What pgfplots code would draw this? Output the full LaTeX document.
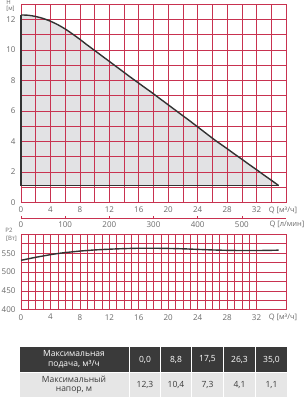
\documentclass[border=0pt]{standalone}
\usepackage{fontspec}
\setmainfont{Open Sans}
\usepackage{pgfplots}
\pgfplotsset{compat=1.18}
\definecolor{gridred}{RGB}{200,50,80}
\definecolor{fillgray}{RGB}{226,226,228}
\definecolor{curvecol}{RGB}{50,50,50}
\definecolor{labelgray}{RGB}{105,105,105}
\definecolor{darkrow}{RGB}{58,58,58}
\definecolor{lightrow}{RGB}{230,230,230}
\pgfplotsset{
  chartgrid/.style={
    scale only axis, width=265pt, anchor=south west,
    grid=both,
    grid style={gridred, line width=0.6pt},
    minor grid style={gridred, line width=0.6pt},
    axis line style={gridred, line width=0.8pt},
    major tick length=0pt, minor tick length=0pt,
    tick label style={font=\fontsize{8}{9}\selectfont, text=labelgray},
    /pgf/number format/assume math mode=true,
    xticklabel style={yshift=-1pt},
    yticklabel style={xshift=-2pt},
  }
}
\begin{document}
\begin{tikzpicture}[x=1pt,y=1pt]
\useasboundingbox (0,0) rectangle (305,400);
% ---------- top chart fill (behind grid) ----------
\begin{axis}[scale only axis, width=265pt, anchor=south west, at={(21pt,197.7pt)}, height=198pt,
  xmin=0, xmax=36, ymin=0, ymax=13, hide axis]
\addplot[fill=fillgray, draw=none] coordinates {
(0,1.1) (0,12.30) (1,12.28) (2,12.20) (3,12.07) (4,11.89) (5,11.66) (6,11.38) (7,11.05)
(8,10.70) (8.8,10.40) (10,9.97) (11,9.61) (12,9.25) (13,8.89) (14,8.53) (15,8.17)
(16,7.82) (17,7.47) (17.5,7.30) (18,7.12) (19,6.76) (20,6.40) (21,6.04) (22,5.68)
(23,5.32) (24,4.95) (25,4.58) (26.3,4.10) (27,3.86) (28,3.52) (29,3.17) (30,2.83)
(31,2.48) (32,2.14) (33,1.79) (34,1.45) (35,1.10)} -- cycle;
\end{axis}
% ---------- top chart: H ----------
\begin{axis}[chartgrid, at={(21pt,197.7pt)}, height=198pt,
  xmin=0, xmax=36, ymin=0, ymax=13,
  xtick={0,4,...,32}, minor xtick={2,6,...,34},
  ytick={0,2,...,12}, minor ytick={1,3,...,11},
  clip=false]
\addplot[curvecol, line width=1.4pt, smooth] coordinates {
(0,12.30) (1,12.28) (2,12.20) (3,12.07) (4,11.89) (5,11.66) (6,11.38) (7,11.05)
(8,10.70) (8.8,10.40) (10,9.97) (11,9.61) (12,9.25) (13,8.89) (14,8.53) (15,8.17)
(16,7.82) (17,7.47) (17.5,7.30) (18,7.12) (19,6.76) (20,6.40) (21,6.04) (22,5.68)
(23,5.32) (24,4.95) (25,4.58) (26.3,4.10) (27,3.86) (28,3.52) (29,3.17) (30,2.83)
(31,2.48) (32,2.14) (33,1.79) (34,1.45) (35,1.10)};
\addplot[curvecol, line width=1.4pt] coordinates {(35,1.1) (0,1.1) (0,12.3)};
\end{axis}
% ---------- secondary axis: l/min ----------
\begin{axis}[scale only axis, width=265pt, height=10pt, anchor=south west,
  at={(21pt,182pt)}, xmin=0, xmax=600, ymin=0, ymax=1,
  axis x line=bottom, axis y line=none,
  x axis line style={-, gridred, line width=0.8pt},
  xtick={0,100,...,500}, ytick=\empty, tick align=center, major tick length=3pt,
  tick style={gridred, line width=0.6pt},
  tick label style={font=\fontsize{8}{9}\selectfont, text=labelgray},
  /pgf/number format/assume math mode=true,
  xticklabel style={yshift=1pt}]
\addplot[draw=none] coordinates {(0,0.5) (600,0.5)};
\end{axis}
% ---------- bottom chart: P2 ----------
\begin{axis}[chartgrid, at={(21pt,90.3pt)}, height=75.4pt,
  xmin=0, xmax=36, ymin=400, ymax=600,
  xtick={0,4,...,32}, minor x tick num=3,
  ytick={400,450,...,550}, minor ytick={425,475,525,575}]
\addplot[curvecol, line width=1.4pt, smooth] coordinates {
(0,531) (1,535) (2,539) (3,542.5) (4,546) (5,549) (6,551.5) (7,553.5) (8,555.5)
(9,557) (10,558.5) (12,560.5) (14,562) (16,563) (18,563) (20,562.5) (22,561.5)
(24,560) (26,558.5) (28,557.5) (30,557) (32,557) (34,557.5) (35,558)};
\end{axis}
% ---------- axis captions ----------
\begin{scope}[every node/.style={font=\fontsize{6}{6.5}\selectfont, text=labelgray, inner sep=0pt}]
\node at (8.5,397.2) {H};
\node at (10.5,390.8) {[м]};
\node at (9,169.5) {P2};
\node at (11.5,161) {[Вт]};
\end{scope}
\begin{scope}[every node/.style={font=\fontsize{7.5}{8}\selectfont, text=labelgray, inner sep=0pt}]
\node at (283,190) {Q [м³/ч]};
\node at (287,176) {Q [л/мин]};
\node at (283,83) {Q [м³/ч]};
\end{scope}
% ---------- table ----------
\fill[darkrow] (20,28) rectangle (128.5,53);
\fill[lightrow] (20,3) rectangle (128.5,27);
\foreach \a/\b in {130/160,161/191,192/223,224/255,256/287}{
  \fill[darkrow] (\a,28) rectangle (\b,53);
  \fill[lightrow] (\a,3) rectangle (\b,27);
}
\node[align=center, text=white, font=\fontsize{8.5}{9.5}\selectfont] at (74,40.5) {Максимальная\\подача, м³/ч};
\node[align=center, text=darkrow, font=\fontsize{8.5}{9.5}\selectfont] at (74,15) {Максимальный\\напор, м};
\foreach \x/\v in {145/{0,0},176/{8,8},207.5/{17,5},239.5/{26,3},271.5/{35,0}}{
  \node[text=white, font=\fontsize{8.5}{9}\selectfont] at (\x,40.5) {\v};
}
\foreach \x/\v in {145/{12,3},176/{10,4},207.5/{7,3},239.5/{4,1},271.5/{1,1}}{
  \node[text=darkrow, font=\fontsize{8.5}{9}\selectfont] at (\x,15) {\v};
}
\end{tikzpicture}
\end{document}
